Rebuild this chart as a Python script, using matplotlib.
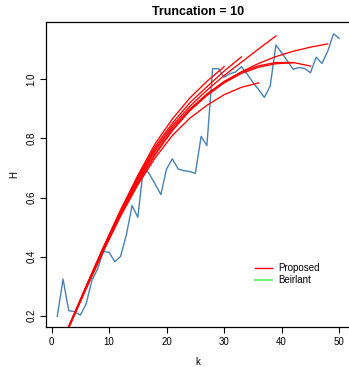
import matplotlib
matplotlib.use("Agg")
import matplotlib.pyplot as plt

plt.rcParams["font.family"] = ["Liberation Sans", "DejaVu Sans"]

# observed H for k = 1..50
k_obs = list(range(1, 51))
h_obs = [0.198, 0.324, 0.217, 0.214, 0.202, 0.239, 0.319, 0.358, 0.417, 0.415,
         0.383, 0.401, 0.473, 0.573, 0.533, 0.706, 0.680, 0.646, 0.610, 0.697,
         0.731, 0.697, 0.691, 0.688, 0.682, 0.807, 0.776, 1.036, 1.036, 1.008,
         1.019, 1.025, 1.043, 1.018, 0.990, 0.965, 0.939, 0.977, 1.116, 1.090,
         1.062, 1.034, 1.040, 1.037, 1.022, 1.075, 1.054, 1.095, 1.154, 1.139]

# fitted curves ("Proposed"), one per end point
fit_k = [
    [2, 3, 6, 9, 12, 15, 18, 21, 24, 27, 30],
    [2, 3, 6, 9, 12, 15, 18, 21, 24, 27, 30, 33],
    [2, 3, 6, 9, 12, 15, 18, 21, 24, 27, 30, 33, 36],
    [2, 3, 6, 9, 12, 15, 18, 21, 24, 27, 30, 33, 36, 39],
    [2, 3, 6, 9, 12, 15, 18, 21, 24, 27, 30, 33, 36, 39, 42],
    [2, 3, 6, 9, 12, 15, 18, 21, 24, 27, 30, 33, 36, 39, 42, 45],
    [2, 3, 6, 9, 12, 15, 18, 21, 24, 27, 30, 33, 36, 39, 42, 45, 48],
]
fit_h = [
    [0.120, 0.165, 0.300, 0.432, 0.558, 0.675, 0.782, 0.866, 0.936, 0.993, 1.043],
    [0.118, 0.163, 0.298, 0.430, 0.555, 0.670, 0.772, 0.852, 0.920, 0.975, 1.028, 1.076],
    [0.116, 0.160, 0.291, 0.418, 0.537, 0.643, 0.734, 0.810, 0.868, 0.912, 0.948, 0.973, 0.988],
    [0.117, 0.162, 0.296, 0.427, 0.551, 0.664, 0.764, 0.843, 0.908, 0.963, 1.013, 1.058, 1.103, 1.147],
    [0.116, 0.161, 0.293, 0.421, 0.542, 0.652, 0.747, 0.828, 0.893, 0.945, 0.988, 1.020, 1.041, 1.053, 1.056],
    [0.116, 0.161, 0.292, 0.420, 0.540, 0.649, 0.745, 0.827, 0.895, 0.950, 0.993, 1.025, 1.046, 1.057, 1.057, 1.045],
    [0.117, 0.162, 0.296, 0.426, 0.549, 0.660, 0.757, 0.836, 0.899, 0.950, 0.991, 1.025, 1.054, 1.077, 1.095, 1.109, 1.120],
]

x_ticks = [0, 10, 20, 30, 40, 50]
y_ticks = [0.2, 0.4, 0.6, 0.8, 1.0]

fig = plt.figure(figsize=(3.49, 3.67), dpi=100)
ax = fig.add_axes([0.1318, 0.109, 0.8725, 0.831])

ax.plot(k_obs, h_obs, color="#4682b4", lw=1.0)
for kk, hh in zip(fit_k, fit_h):
    ax.plot(kk, hh, color="red", lw=0.95)

ax.set_xlim(-0.96, 51.96)
ax.set_ylim(0.162, 1.194)
ax.set_xticks(x_ticks)
ax.set_yticks(y_ticks)
ax.set_yticklabels([f"{v:.1f}" for v in y_ticks], rotation=90, va="center")
ax.tick_params(direction="out", length=4, width=0.8, labelsize=7, pad=3)
for s in ax.spines.values():
    s.set_linewidth(0.9)

ax.set_title("Truncation = 10", fontsize=9, fontweight="bold", pad=5)
ax.set_xlabel("k", fontsize=7, labelpad=7.5)
ax.set_ylabel("H", fontsize=7, labelpad=5)

ax.plot([], [], color="red", lw=1.0, label="Proposed")
ax.plot([], [], color="#77ee77", lw=1.6, label="Beirlant")
handles, labels = ax.get_legend_handles_labels()
ax.legend(handles[-2:], labels[-2:], loc="upper left", bbox_to_anchor=(0.66, 0.235),
          frameon=False, fontsize=7, handlelength=1.8, handletextpad=0.6,
          labelspacing=0.2, borderpad=0.3)

fig.savefig("out.png", dpi=100)
